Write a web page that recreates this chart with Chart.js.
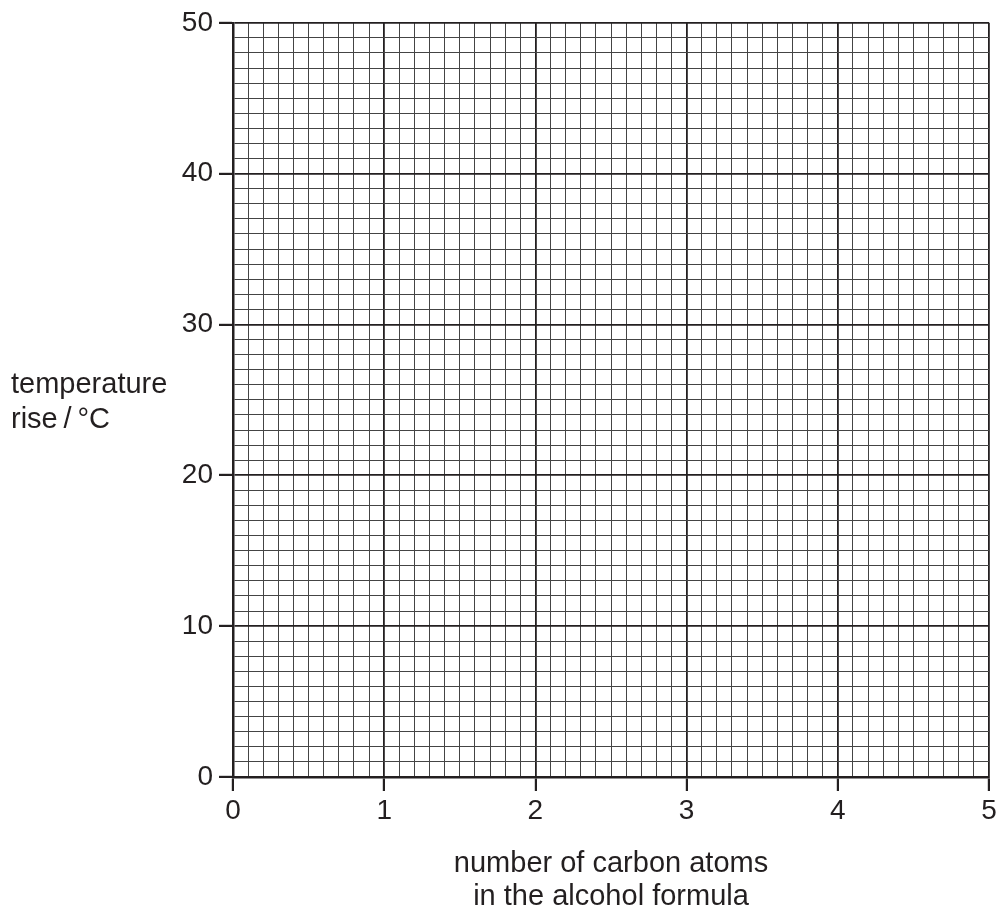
<!DOCTYPE html>
<html>
<head>
<meta charset="utf-8">
<script src="https://cdn.jsdelivr.net/npm/chart.js@4.4.1/dist/chart.umd.min.js"></script>
<style>
  html, body { margin: 0; padding: 0; background: #fff; overflow: hidden; }
  #wrap { width: 1001px; height: 909px; position: relative; }
</style>
</head>
<body>
<div id="wrap"><canvas id="gridChart"></canvas></div>
<script>
// axis values
const xMajorTicks = [0, 1, 2, 3, 4, 5];
const yMajorTicks = [0, 10, 20, 30, 40, 50];
const xMinorStep = 0.1;   // 10 small squares per carbon atom
const yMinorStep = 1;     // 10 small squares per 10 °C
const xTitleLines = ['number of carbon atoms', 'in the alcohol formula'];
const yTitleLines = ['temperature', 'rise\u2009/\u2009°C'];
const points = []; // blank graph paper, nothing plotted yet

const ink = '#231f20';
const font = "'Liberation Sans', Arial, Helvetica, sans-serif";

const isMajor = (v, list) => list.some(m => Math.abs(m - v) < 1e-6);

const gridFor = (list) => ({
    color: ctx => isMajor(ctx.tick.value, list) ? ink : '#444',
    lineWidth: ctx => isMajor(ctx.tick.value, list) ? 1.8 : 1,
    drawTicks: true,
    tickLength: 14,
    tickColor: ctx => isMajor(ctx.tick.value, list) ? ink : 'rgba(0,0,0,0)',
    tickWidth: 2.2
});

// y title sits horizontally to the left of the axis
const yTitlePlugin = {
    id: 'yTitle',
    afterDraw(chart) {
        const c = chart.ctx;
        c.save();
        c.fillStyle = ink;
        c.font = '29px ' + font;
        c.textAlign = 'left';
        c.textBaseline = 'alphabetic';
        c.fillText(yTitleLines[0], 11, 393);
        c.fillText(yTitleLines[1], 11, 428);
        c.restore();
    }
};

new Chart(document.getElementById('gridChart'), {
    type: 'scatter',
    data: {
        datasets: [{
            label: 'temperature rise',
            data: points,
            pointRadius: 4,
            backgroundColor: ink
        }]
    },
    options: {
        responsive: true,
        maintainAspectRatio: false,
        animation: false,
        events: [],
        layout: { padding: { left: 0, right: 12, top: 21, bottom: 0 } },
        plugins: { legend: { display: false }, tooltip: { enabled: false } },
        scales: {
            x: {
                type: 'linear',
                min: xMajorTicks[0],
                max: xMajorTicks[xMajorTicks.length - 1],
                afterFit: s => { s.height = 132; },
                border: { display: true, color: ink, width: 2.5 },
                grid: gridFor(xMajorTicks),
                ticks: {
                    stepSize: xMinorStep,
                    autoSkip: false,
                    maxRotation: 0,
                    padding: 3,
                    color: ink,
                    font: { family: font, size: 28 },
                    callback: v => isMajor(v, xMajorTicks) ? String(Math.round(v)) : ''
                },
                title: {
                    display: true,
                    text: xTitleLines,
                    color: ink,
                    font: { family: font, size: 29, lineHeight: 1.15 },
                    padding: { top: 0, bottom: -5 }
                }
            },
            y: {
                type: 'linear',
                min: yMajorTicks[0],
                max: yMajorTicks[yMajorTicks.length - 1],
                afterFit: s => { s.width = 233; },
                border: { display: true, color: ink, width: 2.5 },
                grid: gridFor(yMajorTicks),
                ticks: {
                    stepSize: yMinorStep,
                    autoSkip: false,
                    padding: 6,
                    color: ink,
                    font: { family: font, size: 28 },
                    callback: v => isMajor(v, yMajorTicks) ? String(Math.round(v)) : ''
                }
            }
        }
    },
    plugins: [yTitlePlugin]
});
</script>
</body>
</html>
